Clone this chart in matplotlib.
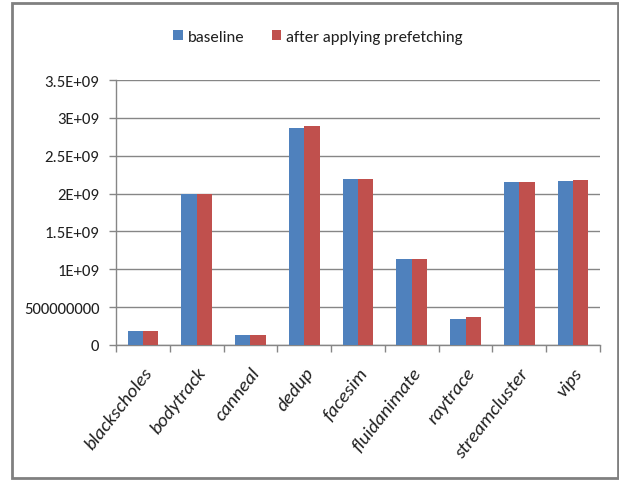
import matplotlib
matplotlib.use('Agg')
import matplotlib.pyplot as plt
import matplotlib.patches as patches
import numpy as np

plt.rcParams['font.family'] = ['Carlito', 'DejaVu Sans']

# benchmark names and values (PARSEC)
benchmarks = ['blackscholes', 'bodytrack', 'canneal', 'dedup', 'facesim',
              'fluidanimate', 'raytrace', 'streamcluster', 'vips']
baseline = [1.9e8, 2.0e9, 1.32e8, 2.867e9, 2.19e9, 1.142e9, 3.44e8, 2.153e9, 2.166e9]
prefetch = [1.9e8, 2.0e9, 1.32e8, 2.894e9, 2.19e9, 1.142e9, 3.75e8, 2.153e9, 2.179e9]
series_names = ['baseline', 'after applying prefetching']
y_ticks = [0, 5e8, 1e9, 1.5e9, 2e9, 2.5e9, 3e9, 3.5e9]
y_tick_labels = ['0', '500000000', '1E+09', '1.5E+09', '2E+09', '2.5E+09', '3E+09', '3.5E+09']

BLUE = '#4F81BD'
RED = '#C0504D'
GRID = '#868686'
FS = 12.1

fig = plt.figure(figsize=(6.19, 4.81), dpi=100)
ax = fig.add_axes([0.1874, 0.2807, 0.9693 - 0.1874, 0.8316 - 0.2807])

x = np.arange(len(benchmarks))
w = 0.285
ax.bar(x - w / 2, baseline, w, color=BLUE, label=series_names[0], zorder=3)
ax.bar(x + w / 2, prefetch, w, color=RED, label=series_names[1], zorder=3)

ax.set_xlim(-0.5, len(benchmarks) - 0.5)
ax.set_ylim(0, 3.5e9)
ax.set_yticks(y_ticks)
ax.set_yticklabels(y_tick_labels, fontsize=FS, color='#202020')
ax.yaxis.grid(True, color=GRID, linewidth=1.0, zorder=0)

# category labels at centers, tick marks at group boundaries
ax.set_xticks(x)
ax.set_xticklabels(benchmarks, rotation=52, ha='right', rotation_mode='anchor',
                   fontsize=14, style='italic', color='#202020')
ax.tick_params(axis='x', length=0, pad=14)
ax.set_xticks(np.arange(len(benchmarks) + 1) - 0.5, minor=True)
ax.tick_params(axis='x', which='minor', length=5, color=GRID, width=1)
ax.tick_params(axis='y', length=5, color=GRID, width=1, pad=7)

for side in ['top', 'right']:
    ax.spines[side].set_visible(False)
for side in ['left', 'bottom']:
    ax.spines[side].set_color(GRID)
    ax.spines[side].set_linewidth(1)

handles, labels = ax.get_legend_handles_labels()
fig.legend(handles, labels, loc='center', bbox_to_anchor=(318 / 619, 1 - 38 / 481),
           ncol=2, frameon=False, fontsize=FS, handlelength=0.57, handleheight=0.57,
           handletextpad=0.3, columnspacing=1.6, labelcolor='#202020')

# chart border
fig.patches.append(patches.Rectangle((12 / 619, 2 / 481), 606 / 619, 475 / 481,
                                     transform=fig.transFigure, fill=False,
                                     edgecolor='#808080', linewidth=2))

fig.savefig('out.png', dpi=100)
